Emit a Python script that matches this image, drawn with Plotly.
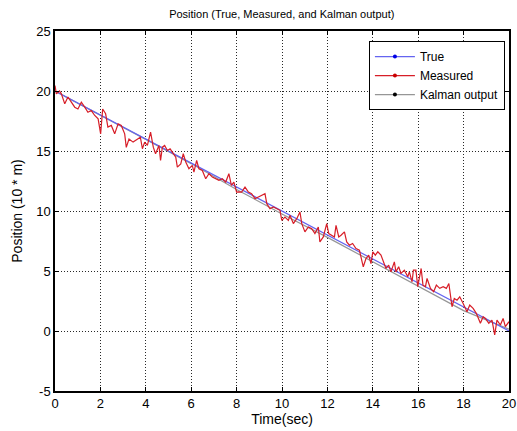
import plotly.graph_objects as go

# ---- data ----
t_true = [0, 5, 10, 15, 20]
pos_true = [20, 15, 10, 5, 0]

t_meas = [0.00,0.06,0.20,0.28,0.43,0.57,0.72,0.87,1.01,1.16,
          1.31,1.45,1.60,1.75,1.90,2.01,2.10,2.23,2.33,2.48,
          2.63,2.78,2.92,3.07,3.14,3.26,3.44,3.66,3.76,3.85,
          3.95,4.07,4.21,4.33,4.43,4.58,4.65,4.73,4.83,4.95,
          5.07,5.17,5.32,5.39,5.54,5.65,5.76,5.90,6.05,6.12,
          6.24,6.34,6.49,6.64,6.78,6.93,7.08,7.22,7.37,7.52,
          7.66,7.77,7.88,8.00,8.08,8.22,8.37,8.52,8.66,8.81,
          8.96,9.10,9.25,9.33,9.47,9.62,9.77,9.91,9.99,10.13,
          10.28,10.35,10.50,10.65,10.79,10.87,11.01,11.16,11.31,11.45,
          11.60,11.67,11.82,11.97,12.06,12.16,12.31,12.38,12.50,12.60,
          12.75,12.85,12.97,13.11,13.26,13.41,13.48,13.58,13.70,13.82,
          13.92,14.00,14.11,14.22,14.36,14.44,14.58,14.70,14.80,14.95,
          15.02,15.14,15.24,15.39,15.54,15.61,15.73,15.79,15.90,15.98,
          16.13,16.21,16.32,16.39,16.54,16.68,16.80,16.95,17.10,17.24,
          17.35,17.49,17.59,17.71,17.83,17.98,18.15,18.27,18.42,18.56,
          18.74,18.86,18.96,19.11,19.25,19.37,19.47,19.62,19.74,19.84,
          20.00]
pos_meas = [20.45,19.76,20.0,19.76,18.93,19.5,19.07,18.65,18.5,19.07,
            18.65,18.23,18.37,17.96,17.68,16.43,18.5,18.1,16.99,17.13,
            16.43,17.26,17.13,16.43,15.3,16.0,15.74,16.0,16.15,15.19,
            15.74,15.46,16.57,15.32,14.77,15.46,14.21,15.32,15.46,15.04,
            15.18,14.91,14.49,13.66,13.93,14.77,14.08,13.52,13.8,13.24,
            14.21,13.52,13.38,12.69,13.11,12.83,12.69,12.55,12.69,12.41,
            13.11,12.14,12.41,11.58,11.6,11.58,11.99,11.58,11.44,11.03,
            11.17,11.3,11.44,10.61,10.19,10.33,10.19,10.06,9.22,9.5,
            9.22,9.64,8.95,9.36,9.92,8.95,8.26,8.67,8.53,8.12,
            8.67,7.42,7.84,8.95,8.12,7.98,7.84,8.81,7.84,7.98,
            8.26,7.42,7.15,7.29,6.87,6.73,6.18,5.35,6.04,6.32,
            5.62,6.6,6.32,6.6,6.32,5.9,5.21,5.49,4.93,5.76,
            4.93,5.35,4.79,5.07,4.52,4.93,4.1,5.07,5.07,3.69,
            5.21,3.82,3.69,4.38,3.55,3.27,3.82,3.55,3.69,3.55,
            3.96,2.02,2.71,2.57,2.85,2.29,1.6,2.16,1.88,1.47,
            0.64,1.19,1.05,0.64,0.91,-0.33,0.91,0.5,1.05,0.36,
            0.78]

t_kal = [0, 2, 4, 6, 8, 10, 12, 14, 16, 18, 20]
pos_kal = [20.0, 18.0, 16.0, 13.95, 11.8, 9.75, 7.8, 5.75, 3.75, 1.7, 0.15]

x_ticks = [0, 2, 4, 6, 8, 10, 12, 14, 16, 18, 20]
y_ticks = [-5, 0, 5, 10, 15, 20, 25]

FONT = "Liberation Sans, Arial, sans-serif"
C_TRUE = "rgb(100,100,240)"
C_MEAS = "rgb(215,30,40)"
C_KAL = "rgb(150,150,150)"

fig = go.Figure()
fig.add_trace(go.Scatter(x=t_kal, y=pos_kal, mode="lines",
                         line=dict(color=C_KAL, width=1.2), showlegend=False))
fig.add_trace(go.Scatter(x=t_true, y=pos_true, mode="lines",
                         line=dict(color=C_TRUE, width=1.2), showlegend=False))
fig.add_trace(go.Scatter(x=t_meas, y=pos_meas, mode="lines",
                         line=dict(color=C_MEAS, width=1.2), showlegend=False))

for name, col, mcol in [("True", C_TRUE, "rgb(0,0,230)"),
                        ("Measured", C_MEAS, "rgb(200,0,0)"),
                        ("Kalman output", C_KAL, "black")]:
    fig.add_trace(go.Scatter(x=[None], y=[None], mode="lines+markers", name=name,
                             line=dict(color=col, width=1.2),
                             marker=dict(color=mcol, size=4)))

axis_common = dict(showline=True, linecolor="black", linewidth=1.5, mirror="ticks",
                   ticks="inside", ticklen=4, tickcolor="black",
                   showgrid=True, gridcolor="rgb(40,40,40)", gridwidth=1, griddash="1px,2px",
                   zeroline=False, automargin=False,
                   tickfont=dict(family=FONT, size=13, color="black"))

fig.update_xaxes(range=[0, 20], tickvals=x_ticks, ticktext=[str(v) for v in x_ticks],
                 title=dict(text="Time(sec)", font=dict(family=FONT, size=14, color="black"),
                            standoff=0), **axis_common)
fig.update_yaxes(range=[-5, 25], tickvals=y_ticks, ticktext=[str(v) for v in y_ticks],
                 title=dict(text="Position (10 * m)", font=dict(family=FONT, size=14, color="black"),
                            standoff=10), **axis_common)

fig.update_layout(
    width=517, height=431,
    margin=dict(l=55, r=8, t=31, b=40),
    paper_bgcolor="white", plot_bgcolor="white",
    title=dict(text="Position (True, Measured, and Kalman output)",
               font=dict(family=FONT, size=11, color="black"),
               x=0.545, xanchor="center", y=0.967, yanchor="middle"),
    legend=dict(x=0.991, y=0.972, xanchor="right", yanchor="top",
                bgcolor="white", bordercolor="black", borderwidth=1,
                font=dict(family=FONT, size=12, color="black"),
                tracegroupgap=0, itemwidth=40),
    showlegend=True,
)

fig.write_html("out.html", config={"displayModeBar": False},
               post_script="document.body.style.margin='0';")
